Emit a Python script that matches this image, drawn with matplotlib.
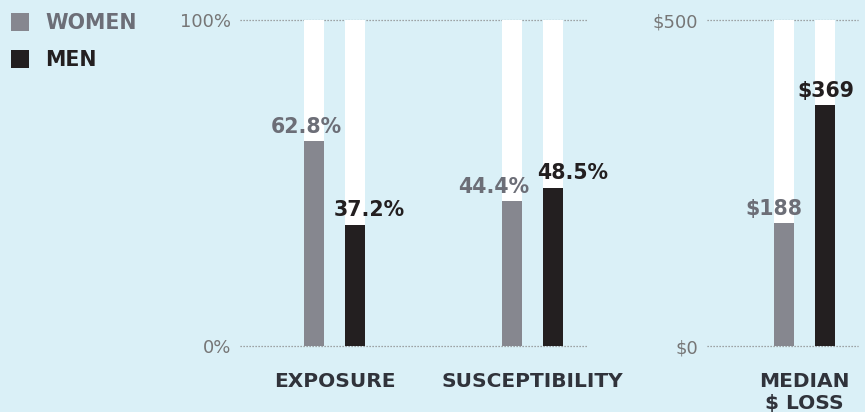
import matplotlib
matplotlib.use('Agg')
import matplotlib.pyplot as plt
from matplotlib.patches import Rectangle

# ---- data ----
categories_pct = ['EXPOSURE', 'SUSCEPTIBILITY']
women_pct = [62.8, 44.4]
men_pct = [37.2, 48.5]
categories_loss = ['MEDIAN\n$ LOSS']
women_loss = [188]
men_loss = [369]
pct_ticks = [0, 100]
pct_tick_labels = ['0%', '100%']
loss_ticks = [0, 500]
loss_tick_labels = ['$0', '$500']
series_names = ['WOMEN', 'MEN']

# ---- style ----
BG = '#daf0f7'
WOMEN_BAR = '#86878f'
MEN_BAR = '#231f20'
WOMEN_TXT = '#6c6e77'
MEN_TXT = '#231f20'
TICK_TXT = '#767676'
CAT_TXT = '#30333b'
DOT = '#8a8a8a'

W, H = 865, 412
plt.rcParams['font.family'] = ['DejaVu Sans']
fig = plt.figure(figsize=(W / 100, H / 100), dpi=100, facecolor=BG)


def px_axes(x0, y0, x1, y1):
    return fig.add_axes([x0 / W, 1 - y1 / H, (x1 - x0) / W, (y1 - y0) / H])


UNIT = 198.0
bw = 20 / UNIT
off = 20.5 / UNIT
PT = 0.72  # px -> pt

ax1 = px_axes(240, 20, 587, 346)
ax1.set_xlim(-94.5 / UNIT, (347 - 94.5) / UNIT)
ax2 = px_axes(707, 20, 858, 346)
ax2.set_xlim(-97.5 / UNIT, (151 - 97.5) / UNIT)

# label offsets (px): dx from bar centre
pct_dx = [(-8, 14.5), (-18.5, 20)]
loss_dx = [(-10, 1)]


def panel(ax, cats, women, men, ticks, tlabels, fmt, dxs):
    top = ticks[-1]
    xs = list(range(len(cats)))
    ax.set_facecolor('none')
    ax.set_ylim(0, top)
    for s in ax.spines.values():
        s.set_visible(False)
    for y in ticks:
        ax.axhline(y, color=DOT, lw=0.9, ls=(0, (1, 1.4)), zorder=0.5, clip_on=False)
    xw = [x - off for x in xs]
    xm = [x + off for x in xs]
    ax.bar(xw, [top] * len(xs), width=bw, color='white', zorder=1, linewidth=0)
    ax.bar(xm, [top] * len(xs), width=bw, color='white', zorder=1, linewidth=0)
    ax.bar(xw, women, width=bw, color=WOMEN_BAR, zorder=2, linewidth=0)
    ax.bar(xm, men, width=bw, color=MEN_BAR, zorder=2, linewidth=0)
    for i in xs:
        ax.annotate(fmt(women[i]), xy=(xw[i], women[i]),
                    xytext=(dxs[i][0] * PT, 8.5 * PT), textcoords='offset points',
                    ha='center', va='baseline', fontsize=14.8, fontweight='bold',
                    color=WOMEN_TXT, zorder=3)
        ax.annotate(fmt(men[i]), xy=(xm[i], men[i]),
                    xytext=(dxs[i][1] * PT, 8.5 * PT), textcoords='offset points',
                    ha='center', va='baseline', fontsize=14.8, fontweight='bold',
                    color=MEN_TXT, zorder=3)
    ax.set_yticks(ticks, tlabels)
    ax.tick_params(axis='y', length=0, pad=9 * PT, labelsize=13, labelcolor=TICK_TXT)
    ax.set_xticks(xs, cats)
    ax.tick_params(axis='x', length=0, pad=26 * PT, labelsize=14.5, labelcolor=CAT_TXT)
    for t in ax.get_xticklabels():
        t.set_fontweight('bold')
        t.set_multialignment('center')


panel(ax1, categories_pct, women_pct, men_pct, pct_ticks, pct_tick_labels,
      lambda v: f'{v:.1f}%', pct_dx)
panel(ax2, categories_loss, women_loss, men_loss, loss_ticks, loss_tick_labels,
      lambda v: f'${v:.0f}', loss_dx)

# ---- legend ----
for name, col, tcol, ytop in [(series_names[0], WOMEN_BAR, WOMEN_TXT, 13),
                              (series_names[1], MEN_BAR, MEN_TXT, 50)]:
    fig.patches.append(Rectangle((11 / W, 1 - (ytop + 18) / H), 18 / W, 18 / H,
                                 transform=fig.transFigure, color=col, linewidth=0))
    fig.text(45 / W, 1 - (ytop + 16) / H, name, va='baseline', ha='left',
             fontsize=14.8, fontweight='bold', color=tcol)

fig.savefig('out.png', dpi=100, facecolor=BG)
